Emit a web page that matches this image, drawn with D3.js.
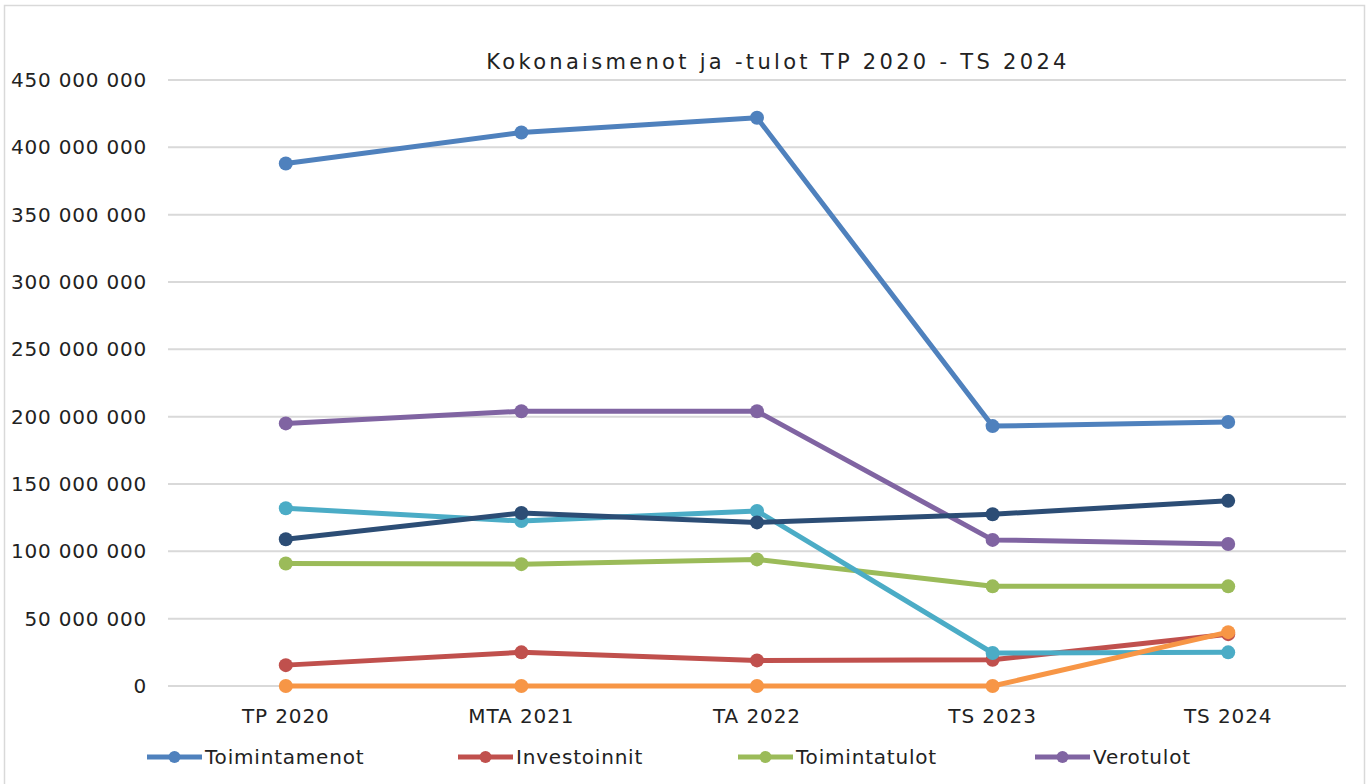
<!DOCTYPE html>
<html>
<head>
<meta charset="utf-8">
<script src="https://cdn.jsdelivr.net/npm/d3@7"></script>
<style>
  body { margin: 0; background: #fff; }
  svg text { font-family: "DejaVu Sans", Verdana, sans-serif; fill: #222; }
</style>
</head>
<body>
<svg id="chart" width="1370" height="784"></svg>
<script>
// Categories and series values
const categories = ['TP 2020', 'MTA 2021', 'TA 2022', 'TS 2023', 'TS 2024'];
const toimintamenot = [388000000, 411000000, 422000000, 193000000, 196000000];
const investoinnit = [15500000, 25000000, 19000000, 19500000, 38500000];
const toimintatulot = [91000000, 90500000, 94000000, 74000000, 74000000];
const verotulot = [195000000, 204000000, 204000000, 108500000, 105500000];
const valtionosuudet = [132000000, 122500000, 130000000, 24500000, 25000000];
const rahoitus = [0, 0, 0, 0, 40000000];
const lainat = [109000000, 128500000, 121500000, 127500000, 137500000];
const yTicks = [0, 50000000, 100000000, 150000000, 200000000, 250000000, 300000000, 350000000, 400000000, 450000000];

// Series in Excel drawing order; only the first four fit in the legend
const series = [
    { name: 'Toimintamenot', values: toimintamenot, color: '#4F81BD', legend: true },
    { name: 'Investoinnit', values: investoinnit, color: '#C0504D', legend: true },
    { name: 'Toimintatulot', values: toimintatulot, color: '#9BBB59', legend: true },
    { name: 'Verotulot', values: verotulot, color: '#8064A2', legend: true },
    { name: 'Valtionosuudet', values: valtionosuudet, color: '#4BACC6', legend: false },
    { name: 'Rahoitus', values: rahoitus, color: '#F79646', legend: false },
    { name: 'Lainat', values: lainat, color: '#2C4D75', legend: false }
];

const svg = d3.select('#chart');

// Outer chart border
svg.append('rect')
    .attr('x', 4.5).attr('y', 5.5)
    .attr('width', 1360).attr('height', 790)
    .attr('fill', 'none')
    .attr('stroke', '#d9d9d9')
    .attr('stroke-width', 1.5);

const plotLeft = 168, plotRight = 1346, plotTop = 80, plotBottom = 686;

const x = d3.scaleBand()
    .domain(categories)
    .range([plotLeft, plotRight]);

const y = d3.scaleLinear()
    .domain([0, 450000000])
    .range([plotBottom, plotTop]);

const fmt = v => d3.format(',')(v).replace(/,/g, ' ');

// Gridlines
svg.append('g')
    .selectAll('line')
    .data(yTicks)
    .enter()
    .append('line')
    .attr('x1', plotLeft).attr('x2', plotRight)
    .attr('y1', d => y(d)).attr('y2', d => y(d))
    .attr('stroke', '#d9d9d9')
    .attr('stroke-width', 2);

// Y tick labels
svg.append('g')
    .selectAll('text')
    .data(yTicks)
    .enter()
    .append('text')
    .attr('x', 147)
    .attr('y', d => y(d))
    .attr('dy', '0.35em')
    .attr('text-anchor', 'end')
    .attr('font-size', 20)
    .attr('letter-spacing', 0.8)
    .text(d => fmt(d));

// X labels
svg.append('g')
    .selectAll('text')
    .data(categories)
    .enter()
    .append('text')
    .attr('x', d => x(d) + x.bandwidth() / 2)
    .attr('y', 716)
    .attr('dy', '0.35em')
    .attr('text-anchor', 'middle')
    .attr('font-size', 20)
    .attr('letter-spacing', 0.9)
    .text(d => d);

// Title
svg.append('text')
    .attr('x', 778)
    .attr('y', 62)
    .attr('dy', '0.35em')
    .attr('text-anchor', 'middle')
    .attr('font-size', 21)
    .attr('letter-spacing', 3.3)
    .text('Kokonaismenot ja -tulot TP 2020 - TS 2024');

const line = d3.line()
    .x((d, i) => x(categories[i]) + x.bandwidth() / 2)
    .y(d => y(d));

series.forEach(s => {
    const g = svg.append('g');
    g.append('path')
        .datum(s.values)
        .attr('d', line)
        .attr('fill', 'none')
        .attr('stroke', s.color)
        .attr('stroke-width', 5)
        .attr('stroke-linejoin', 'round');
    g.selectAll('circle')
        .data(s.values)
        .enter()
        .append('circle')
        .attr('cx', (d, i) => x(categories[i]) + x.bandwidth() / 2)
        .attr('cy', d => y(d))
        .attr('r', 7)
        .attr('fill', s.color);
});

// Legend
const legendX = [147, 458, 738, 1035];
const legend = svg.append('g');
series.filter(s => s.legend).forEach((s, i) => {
    const g = legend.append('g').attr('transform', `translate(${legendX[i]},757)`);
    g.append('line')
        .attr('x1', 0).attr('x2', 55)
        .attr('stroke', s.color)
        .attr('stroke-width', 5);
    g.append('circle')
        .attr('cx', 27.5).attr('r', 6)
        .attr('fill', s.color);
    g.append('text')
        .attr('x', 58)
        .attr('dy', '0.35em')
        .attr('font-size', 20)
        .attr('letter-spacing', 0.8)
        .text(s.name);
});
</script>
</body>
</html>
